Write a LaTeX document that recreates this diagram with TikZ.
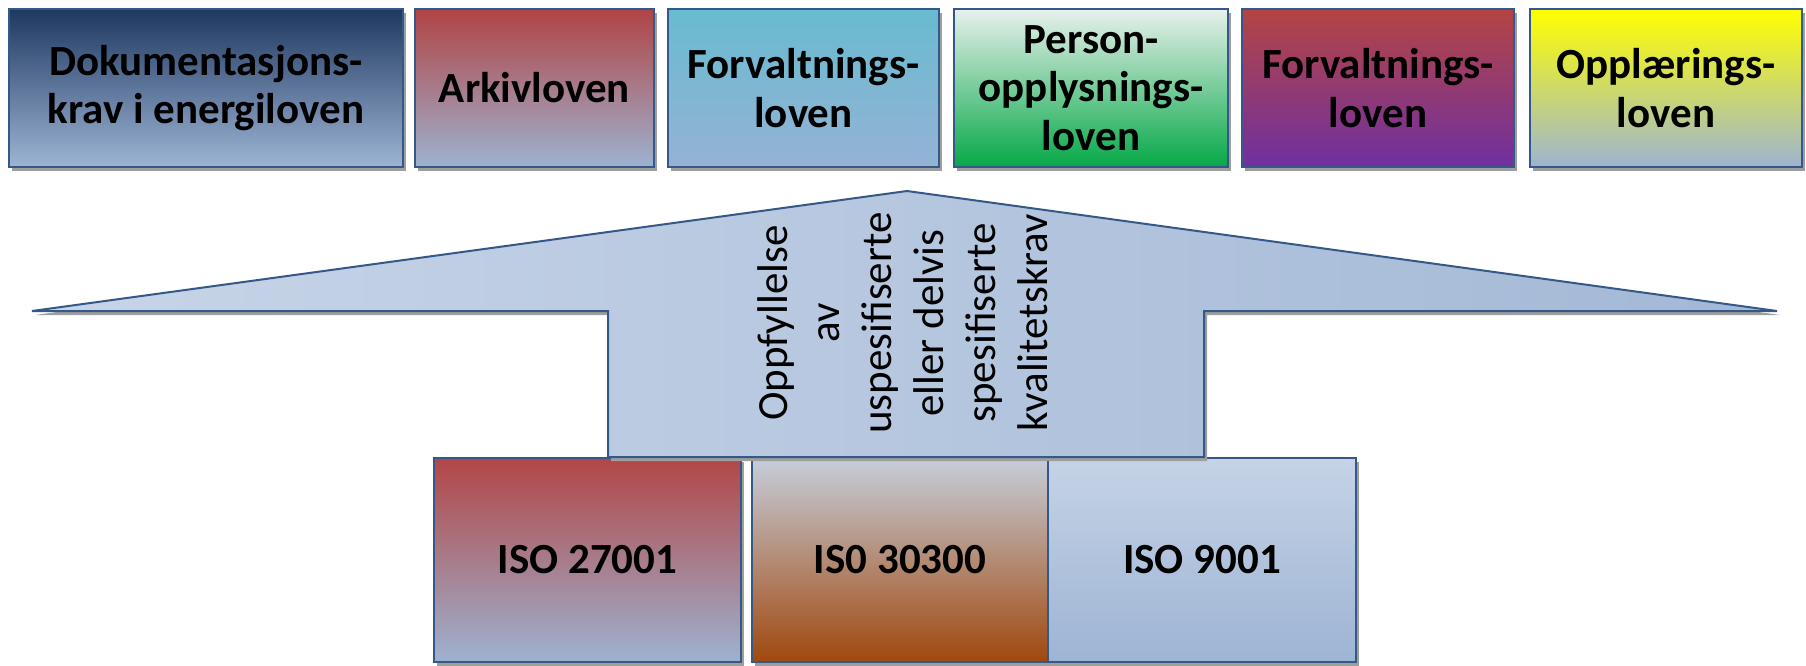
\documentclass[tikz,border=0pt]{standalone}
\usepackage{fontspec}
\setmainfont{Carlito}
\usetikzlibrary{shadows}
\definecolor{edge}{RGB}{52,88,136}
\definecolor{caT}{RGB}{31,56,96}
\definecolor{caB}{RGB}{157,180,212}
\definecolor{cbT}{RGB}{176,68,68}
\definecolor{cbB}{RGB}{157,178,208}
\definecolor{ccT}{RGB}{104,187,208}
\definecolor{ccB}{RGB}{149,178,212}
\definecolor{cdT}{RGB}{232,240,236}
\definecolor{cdB}{RGB}{6,168,72}
\definecolor{ceT}{RGB}{180,68,68}
\definecolor{ceB}{RGB}{112,48,160}
\definecolor{cfT}{RGB}{255,255,0}
\definecolor{cfB}{RGB}{157,180,208}
\definecolor{arrL}{RGB}{200,213,232}
\definecolor{arrR}{RGB}{163,184,214}
\definecolor{iaT}{RGB}{178,70,70}
\definecolor{iaB}{RGB}{157,178,208}
\definecolor{ibT}{RGB}{198,206,219}
\definecolor{ibB}{RGB}{160,72,14}
\definecolor{icT}{RGB}{197,211,230}
\definecolor{icB}{RGB}{157,180,212}
\tikzset{
  myshadow/.style={drop shadow={shadow xshift=3pt, shadow yshift=-4pt, fill=black!38, opacity=1}},
  lawbox/.style={draw=edge, line width=2pt, rectangle, inner sep=0pt, align=center,
    minimum height=158pt, myshadow,
    font=\bfseries\fontsize{43}{48.5}\selectfont},
  isobox/.style={draw=edge, line width=2pt, rectangle, inner sep=0pt, align=center,
    minimum height=204pt, myshadow,
    font=\bfseries\fontsize{43}{48}\selectfont},
  bigarrow/.style={draw=edge, line width=2pt, line join=miter, left color=arrL, right color=arrR, myshadow},
  claimtext/.style={rotate=90, align=center, inner sep=0pt, font=\fontsize{43}{52}\selectfont}
}
\begin{document}
\begin{tikzpicture}[x=1pt,y=-1pt]
\useasboundingbox (0,0) rectangle (1806,665);
% top row
\node[lawbox, minimum width=394pt, top color=caT, bottom color=caB] (b1) at (206,88) {Dokumentasjons-\\krav i energiloven};
\node[lawbox, minimum width=239pt, top color=cbT, bottom color=cbB] (b2) at (534.5,88) {Arkivloven};
\node[lawbox, minimum width=271pt, top color=ccT, bottom color=ccB] (b3) at (803.5,88) {Forvaltnings-\\loven};
\node[lawbox, minimum width=274pt, top color=cdT, bottom color=cdB] (b4) at (1091,88) {Person-\\opplysnings-\\loven};
\node[lawbox, minimum width=272pt, top color=ceT, bottom color=ceB] (b5) at (1378,88) {Forvaltnings-\\loven};
\node[lawbox, minimum width=272pt, top color=cfT, bottom color=cfB] (b6) at (1666,88) {Opplærings-\\loven};
% ISO boxes
\node[isobox, minimum width=307pt, top color=iaT, bottom color=iaB] (i1) at (587.5,560) {ISO 27001};
\node[isobox, minimum width=296pt, top color=ibT, bottom color=ibB] (i2) at (900,560) {IS0 30300};
\node[isobox, minimum width=308pt, top color=icT, bottom color=icB] (i3) at (1202,560) {ISO 9001};
% big arrow
\path[bigarrow] (608,457) -- (608,311) -- (32,311) -- (907,191) -- (1777,311) -- (1204,311) -- (1204,457) -- cycle;
\node[claimtext] (claim) at (903,323) {Oppfyllelse\\av\\uspesifiserte\\eller delvis\\spesifiserte\\kvalitetskrav};
\end{tikzpicture}
\end{document}
